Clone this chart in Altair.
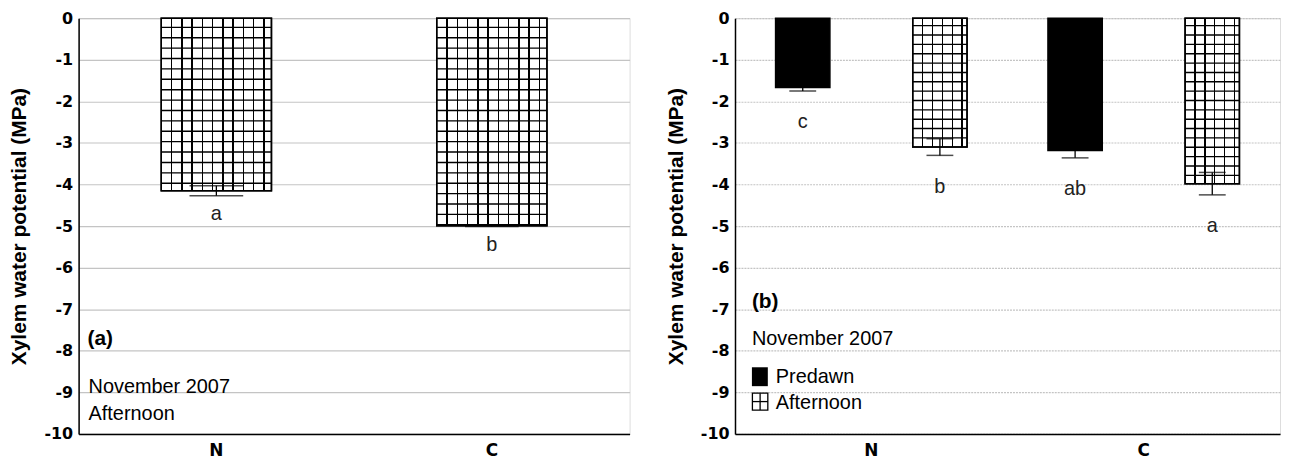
import altair as alt
import pandas as pd
import numpy as np

FONT = "Liberation Sans"
TICKFONT = "DejaVu Sans"

# ---------------- data ----------------
sites = ["N", "C"]
periods = ["Predawn", "Afternoon"]
y_ticks = list(range(-10, 1))

# panel (a): afternoon only
a_site = ["N", "C"]
a_mean = [-4.15, -4.99]
a_se = [0.12, 0.02]
a_letter = ["a", "b"]

# panel (b): predawn and afternoon
b_site = ["N", "N", "C", "C"]
b_period = ["Predawn", "Afternoon", "Predawn", "Afternoon"]
b_mean = [-1.67, -3.10, -3.18, -3.98]
b_se = [0.08, 0.20, 0.18, 0.27]
b_letter = ["c", "b", "ab", "a"]

dfa = pd.DataFrame({"site": a_site, "mean": a_mean, "se": a_se, "letter": a_letter})
dfb = pd.DataFrame({"site": b_site, "period": b_period, "mean": b_mean,
                    "se": b_se, "letter": b_letter})


# horizontal hatch lines inside the hatched (afternoon) bars (decoration)
def hatch_rows(df, start, step):
    rows = []
    for _, r in df.iterrows():
        for lv in np.arange(start, r["mean"], -step):
            d = {"site": r["site"], "level": float(lv)}
            if "period" in r:
                d["period"] = r["period"]
            rows.append(d)
    return pd.DataFrame(rows)


hatch_a = hatch_rows(dfa, -0.22, 0.25)
hatch_b = hatch_rows(dfb[dfb["period"] == "Afternoon"], -0.18, 0.225)


def stripes(width_px, spacing, thick=1.5):
    stops = [{"offset": 0, "color": "white"}]
    c = spacing
    while c < width_px - 3:
        a = (c - thick / 2) / width_px
        b = (c + thick / 2) / width_px
        stops += [{"offset": a, "color": "white"}, {"offset": a, "color": "black"},
                  {"offset": b, "color": "black"}, {"offset": b, "color": "white"}]
        c += spacing
    stops.append({"offset": 1, "color": "white"})
    return {"gradient": "linear", "x1": 0, "y1": 0, "x2": 1, "y2": 0, "stops": stops}


W_A, W_B, H = 554, 548, 418

yscale = alt.Scale(domain=[-10, 0], nice=False, zero=False)


def yaxis(dash):
    kw = dict(values=y_ticks, title="Xylem water potential (MPa)", titleFont=FONT,
              titleFontSize=21, titleFontWeight="bold", titleColor="black",
              labelFont=TICKFONT, labelFontSize=16, labelFontWeight="bold",
              labelColor="black", labelPadding=6, titlePadding=14, ticks=False,
              labelExpr="'' + datum.value",
              grid=True, gridColor="#c4c4c4", gridWidth=1.2, domainColor="black",
              domainWidth=1.5)
    if dash:
        kw["gridDash"] = [2, 1]
    return alt.Axis(**kw)


xaxis = alt.Axis(title=None, labelAngle=0, labelFont=TICKFONT, labelFontSize=17,
                 labelFontWeight="bold", labelColor="black", labelPadding=9,
                 ticks=False, domainColor="black", domainWidth=1.5, grid=False)

txt = dict(font=FONT, fontSize=20, color="black", align="left", baseline="alphabetic")

# ---------------- panel (a) ----------------
xa = alt.X("site:N", sort=sites, scale=alt.Scale(paddingInner=0.6, paddingOuter=0.3), axis=xaxis)
base_a = alt.Chart(dfa).transform_calculate(
    lo="datum.mean - datum.se", hi="datum.mean + datum.se", ly="datum.mean - datum.se - 0.45")

bars_a = base_a.mark_bar(fill=stripes(111, 10.35), stroke="black", strokeWidth=1.5).encode(
    x=xa, y=alt.Y("mean:Q", scale=yscale, axis=yaxis(False)))
hl_a = alt.Chart(hatch_a).mark_bar(stroke="black", strokeWidth=1.4, fillOpacity=0).encode(
    x=xa, y="level:Q", y2="level:Q")
outline_a = base_a.mark_bar(fillOpacity=0, stroke="black", strokeWidth=1.5).encode(
    x=xa, y="mean:Q")
err_a = base_a.mark_rule(color="black", strokeWidth=1.3).encode(x=xa, y="lo:Q", y2="hi:Q")
cap_lo_a = base_a.mark_tick(color="black", size=54, thickness=1.5).encode(x=xa, y="lo:Q")
cap_hi_a = base_a.mark_tick(color="black", size=54, thickness=1.5).encode(x=xa, y="hi:Q")
let_a = base_a.mark_text(font=FONT, fontSize=20, color="#222", baseline="middle").encode(
    x=xa, y="ly:Q", text="letter:N")

one = alt.InlineData(values=[{"k": 1}])
ann_a1 = alt.Chart(one).mark_text(**{**txt, "fontWeight": "bold", "fontSize": 21}).encode(
    x=alt.value(9), y=alt.value(329), text=alt.value("(a)"))
ann_a2 = alt.Chart(one).mark_text(**txt).encode(
    x=alt.value(10), y=alt.value(377), text=alt.value("November 2007"))
ann_a3 = alt.Chart(one).mark_text(**txt).encode(
    x=alt.value(10), y=alt.value(404), text=alt.value("Afternoon"))

panel_a = alt.layer(bars_a, hl_a, outline_a, err_a, cap_lo_a, cap_hi_a, let_a,
                    ann_a1, ann_a2, ann_a3).properties(width=W_A, height=H)

# ---------------- panel (b) ----------------
xb = alt.X("site:N", sort=sites, scale=alt.Scale(paddingInner=0.297, paddingOuter=0.149), axis=xaxis)
ob = alt.XOffset("period:N", sort=periods,
                 scale=alt.Scale(domain=periods, paddingInner=0.604, paddingOuter=0))
base_b = alt.Chart(dfb).transform_calculate(
    lo="datum.mean - datum.se", hi="datum.mean + datum.se", ly="datum.mean - datum.se - 0.75")

pre_b = base_b.transform_filter("datum.period == 'Predawn'").mark_bar(
    fill="black", stroke="black", strokeWidth=1.5).encode(
    x=xb, xOffset=ob, y=alt.Y("mean:Q", scale=yscale, axis=yaxis(True)))
aft_b = base_b.transform_filter("datum.period == 'Afternoon'").mark_bar(
    fill=stripes(55, 10.0), stroke="black", strokeWidth=1.5).encode(
    x=xb, xOffset=ob, y="mean:Q")
hl_b = alt.Chart(hatch_b).mark_bar(stroke="black", strokeWidth=1.4, fillOpacity=0).encode(
    x=xb, xOffset=ob, y="level:Q", y2="level:Q")
outline_b = base_b.transform_filter("datum.period == 'Afternoon'").mark_bar(
    fillOpacity=0, stroke="black", strokeWidth=1.5).encode(x=xb, xOffset=ob, y="mean:Q")
err_b = base_b.mark_rule(color="black", strokeWidth=1.3).encode(
    x=xb, xOffset=ob, y="lo:Q", y2="hi:Q")
cap_lo_b = base_b.mark_tick(color="black", size=27, thickness=1.5).encode(
    x=xb, xOffset=ob, y="lo:Q")
cap_hi_b = base_b.mark_tick(color="black", size=27, thickness=1.5).encode(
    x=xb, xOffset=ob, y="hi:Q")
let_b = base_b.mark_text(font=FONT, fontSize=20, color="#222", baseline="middle").encode(
    x=xb, xOffset=ob, y="ly:Q", text="letter:N")

ann_b1 = alt.Chart(one).mark_text(**{**txt, "fontWeight": "bold", "fontSize": 21}).encode(
    x=alt.value(17), y=alt.value(291), text=alt.value("(b)"))
ann_b2 = alt.Chart(one).mark_text(**txt).encode(
    x=alt.value(17), y=alt.value(329), text=alt.value("November 2007"))
leg_t1 = alt.Chart(one).mark_text(**txt).encode(
    x=alt.value(41), y=alt.value(367), text=alt.value(periods[0]))
leg_t2 = alt.Chart(one).mark_text(**txt).encode(
    x=alt.value(41), y=alt.value(393), text=alt.value(periods[1]))
leg_s1 = alt.Chart(one).mark_rect(fill="black").encode(
    x=alt.value(17), x2=alt.value(33), y=alt.value(351), y2=alt.value(370))
leg_s2 = alt.Chart(one).mark_rect(fill="white", stroke="black", strokeWidth=1.3).encode(
    x=alt.value(17.5), x2=alt.value(33), y=alt.value(377), y2=alt.value(394))
leg_v = alt.Chart(one).mark_rule(color="black", strokeWidth=1.3).encode(
    x=alt.value(25.25), y=alt.value(377), y2=alt.value(394))
leg_h = alt.Chart(one).mark_rule(color="black", strokeWidth=1.3).encode(
    x=alt.value(17.5), x2=alt.value(33), y=alt.value(385.5))

panel_b = alt.layer(pre_b, aft_b, hl_b, outline_b, err_b, cap_lo_b, cap_hi_b, let_b,
                    ann_b1, ann_b2, leg_s1, leg_s2, leg_v, leg_h, leg_t1, leg_t2
                    ).properties(width=W_B, height=H)

chart = alt.hconcat(panel_a, panel_b, spacing=34).properties(
    padding={"left": 0, "top": 0, "right": 0, "bottom": 0}
).configure_view(stroke="#333", strokeWidth=1.5).configure(background="white")

chart.save("out.html", embed_options={"renderer": "svg", "actions": False})
